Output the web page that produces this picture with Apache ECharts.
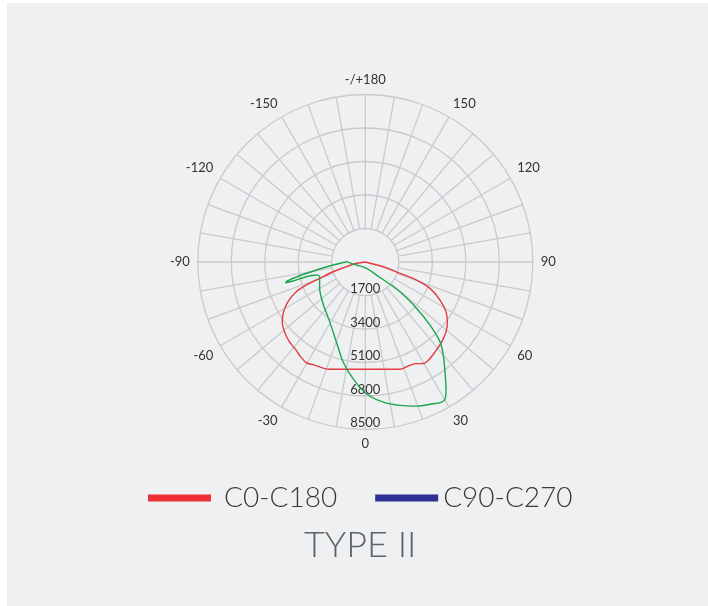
<!DOCTYPE html>
<html><head><meta charset="utf-8">
<script src="https://cdn.jsdelivr.net/npm/echarts@6/dist/echarts.min.js"></script>
<style>
html,body{margin:0;padding:0;background:#ffffff;width:708px;height:606px;overflow:hidden}
#c{position:absolute;left:7px;top:3px;width:701px;height:603px;}
</style>
</head><body><div id="c"></div>
<script>
// ---- data ----
const ringValues = [1700, 3400, 5100, 6800, 8500];
const angleTickLabels = ['0','30','60','90','120','150','-/+180','-150','-120','-90','-60','-30'];
const seriesNames = ['C0-C180', 'C90-C270'];
const titleText = 'TYPE II';

// C0-C180 : angle (deg, 0 = down, + toward right) and intensity
const c0Angles = [90, 75.2, 71.9, 70.6, 67.8, 63.0, 58.3, 53.9, 49.1, 43.7, 37.8, 32.7, 29.4, 26.8, 23.4, 17.9, 9.5, 0, -10, -18.4, -27.0, -30.4, -35.2, -38.0, -43.5, -49.1, -54.2, -58.6, -62.8, -66.7, -68.6, -70.3, -73.2, -76.0, -81.6, -90];
const c0Values = [0, 937, 1848, 2763, 3546, 4257, 4816, 5155, 5420, 5612, 5776, 5925, 5922, 5778, 5711, 5722, 5522, 5446, 5530, 5738, 5848, 5919, 5791, 5686, 5588, 5420, 5197, 4859, 4418, 3814, 3213, 2460, 1711, 987, 453, 0];

// C90-C270 : traced path order
const c90Angles = [-90.9, -71.2, 10.8, 40.7, 49.3, 47.9, 45.7, 43.1, 39.9, 35.9, 32.5, 30.3, 28.6, 25.6, 19.6, 13.6, 7.3, 0.5, -6.0, -12.5, -19.9, -30.7, -45.6, -60.0, -72.1, -75.1, -76.0, -75.3, -75.4, -76.3, -78.2, -80.7, -84.7, -90.9];
const c90Values = [957, 473, 328, 874, 2317, 3513, 4589, 5553, 6171, 6895, 7624, 8032, 8100, 7977, 7763, 7488, 7168, 6684, 5955, 5198, 4313, 3534, 3005, 2676, 2434, 2571, 3085, 3800, 4182, 4096, 3406, 2518, 1646, 957];

// ---- chart ----
const chart = echarts.init(document.getElementById('c'));
const gridColor = '#c9cacd';
const font = 'Lato, "Noto Sans", sans-serif';
const rMax = ringValues[ringValues.length - 1];
const rStep = ringValues[1] - ringValues[0];
const center = [358.3, 259];
const outerR = 167.5;

chart.setOption({
  animation: false,
  backgroundColor: '#eff0f2',
  title: {
    text: titleText,
    left: 292,
    top: 519,
    textStyle: { fontFamily: font, fontSize: 36, fontWeight: 300, color: '#5d6367' }
  },
  legend: {
    left: 136,
    top: 476,
    icon: 'rect',
    itemWidth: 63,
    itemHeight: 7,
    itemGap: 38,
    textStyle: { fontFamily: font, fontSize: 28, fontWeight: 300, color: '#3a3a3a' },
    data: [
      { name: seriesNames[0], itemStyle: { color: '#ee2f35' }, textStyle: { padding: [0, 0, 0, 8] } },
      { name: seriesNames[1], itemStyle: { color: '#2e3192' } }
    ]
  },
  polar: [
    { center: center, radius: [outerR * ringValues[0] / rMax, outerR] },
    { center: center, radius: [0, outerR] }
  ],
  angleAxis: [
    {
      polarIndex: 0,
      type: 'value',
      min: 0,
      max: 360,
      interval: 10,
      startAngle: 270,
      clockwise: false,
      axisLine: { show: false },
      axisTick: { show: false },
      splitLine: { show: true, lineStyle: { color: gridColor, width: 1.3 } },
      axisLabel: {
        margin: 8,
        fontFamily: font,
        fontSize: 13,
        color: '#333333',
        formatter: function (v) {
          if (v % 30 !== 0 || v >= 360) return '';
          return angleTickLabels[v / 30];
        }
      }
    },
    {
      polarIndex: 1,
      type: 'value',
      min: 0,
      max: 360,
      startAngle: 270,
      clockwise: false,
      show: false
    }
  ],
  radiusAxis: [
    {
      polarIndex: 0,
      type: 'value',
      min: ringValues[0],
      max: rMax,
      interval: rStep,
      axisLine: { show: false },
      axisTick: { show: false },
      splitLine: { show: true, lineStyle: { color: gridColor, width: 1.3 } },
      axisLabel: {
        margin: 0,
        align: 'center',
        verticalAlign: 'bottom',
        fontFamily: font,
        fontSize: 13,
        color: '#333333',
        formatter: function (v) { return ringValues.indexOf(v) >= 0 ? String(v) : ''; }
      }
    },
    {
      polarIndex: 1,
      type: 'value',
      min: 0,
      max: rMax,
      show: false
    }
  ],
  series: [
    {
      name: seriesNames[0],
      type: 'line',
      coordinateSystem: 'polar',
      polarIndex: 1,
      data: c0Values.map((r, i) => [r, c0Angles[i]]),
      symbol: 'none',
      smooth: 0.3,
      clip: false,
      color: '#e53a3f',
      lineStyle: { color: '#e53a3f', width: 1.4 }
    },
    {
      name: seriesNames[1],
      type: 'line',
      coordinateSystem: 'polar',
      polarIndex: 1,
      data: c90Values.map((r, i) => [r, c90Angles[i]]),
      symbol: 'none',
      smooth: 0.3,
      clip: false,
      color: '#1ca64f',
      lineStyle: { color: '#1ca64f', width: 1.4 }
    }
  ]
});
</script></body></html>
